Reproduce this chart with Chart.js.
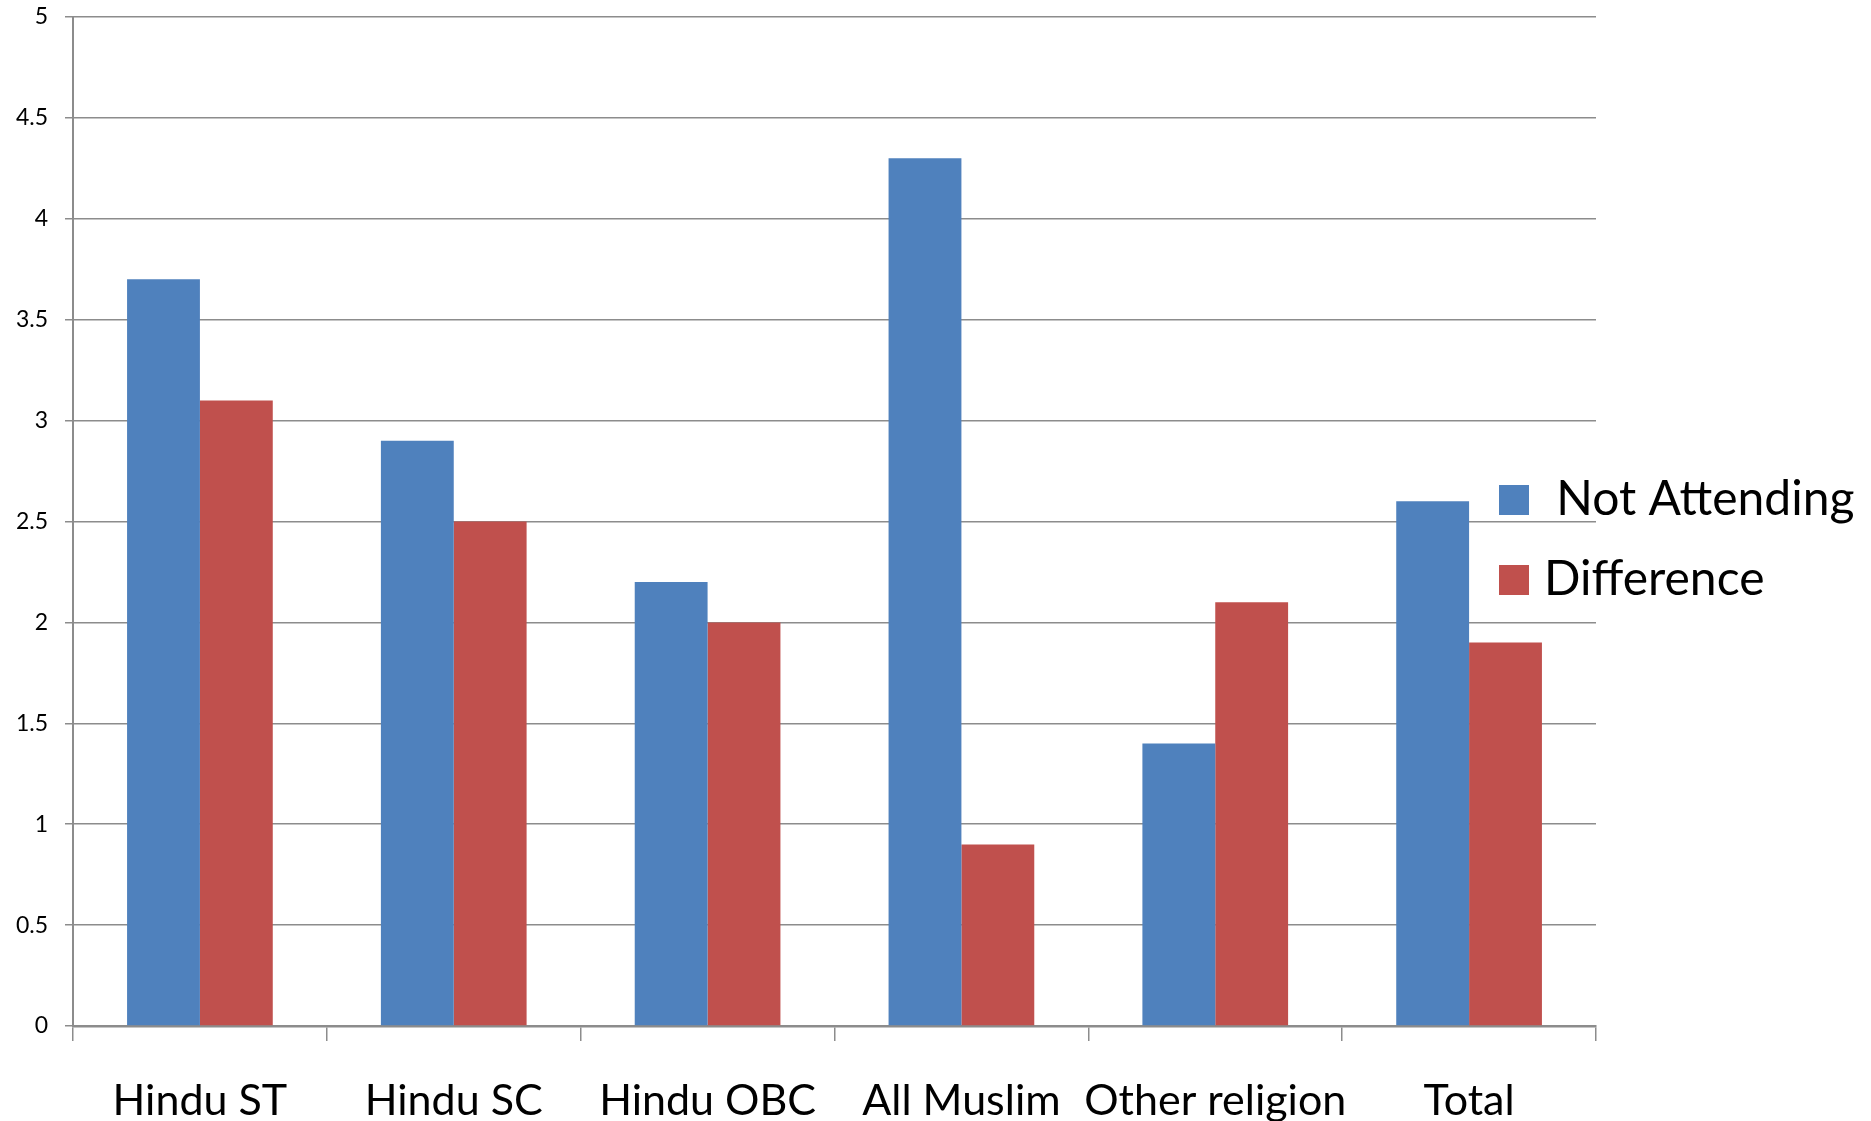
<!DOCTYPE html>
<html>
<head>
<meta charset="utf-8">
<script src="https://cdn.jsdelivr.net/npm/chart.js@4.4.1/dist/chart.umd.min.js"></script>
<style>
  html, body { margin: 0; padding: 0; background: #ffffff; }
  #wrap { width: 1871px; height: 1121px; }
</style>
</head>
<body>
<div id="wrap"><canvas id="chart" width="1871" height="1121"></canvas></div>
<script>
// Categories along the x axis
const categories = ['Hindu ST', 'Hindu SC', 'Hindu OBC', 'All Muslim', 'Other religion', 'Total'];

// Series
const notAttending = [3.7, 2.9, 2.2, 4.3, 1.4, 2.6];
const difference   = [3.1, 2.5, 2.0, 0.9, 2.1, 1.9];
const seriesLabels = [' Not Attending', 'Difference'];

// Y axis ticks
const yTicks = [0, 0.5, 1, 1.5, 2, 2.5, 3, 3.5, 4, 4.5, 5];

const FONT = 'Lato, "Open Sans", "DejaVu Sans", sans-serif';
const GRID = '#8c8c8c';

// Legend drawn to the right, overlapping the plot's right margin
const sideLegend = {
  id: 'sideLegend',
  afterDraw(chart) {
    const ctx = chart.ctx;
    ctx.save();
    ctx.font = '48px ' + FONT;
    ctx.textBaseline = 'alphabetic';
    ctx.textAlign = 'left';
    chart.data.datasets.forEach((ds, i) => {
      const top = 485 + i * 80;
      ctx.fillStyle = ds.backgroundColor;
      ctx.fillRect(1499, top, 30, 30);
      ctx.fillStyle = '#000000';
      ctx.fillText(ds.label, 1544, top + 30);
    });
    ctx.restore();
  }
};

new Chart(document.getElementById('chart'), {
  type: 'bar',
  data: {
    labels: categories,
    datasets: [
      { label: seriesLabels[0], data: notAttending, backgroundColor: '#4F81BD' },
      { label: seriesLabels[1], data: difference, backgroundColor: '#C0504D' }
    ]
  },
  options: {
    responsive: false,
    animation: false,
    devicePixelRatio: 1,
    layout: { padding: { top: 17, right: 275, left: 0, bottom: 0 } },
    datasets: {
      bar: { barPercentage: 1.0, categoryPercentage: 0.574, borderWidth: 0 }
    },
    plugins: {
      legend: { display: false },
      title: { display: false },
      tooltip: { enabled: false }
    },
    scales: {
      x: {
        offset: true,
        grid: {
          display: true,
          drawOnChartArea: false,
          drawTicks: true,
          tickLength: 15,
          color: GRID,
          lineWidth: 1.5,
          offset: true
        },
        border: { display: true, color: GRID, width: 2.5 },
        ticks: {
          color: '#000000',
          font: { family: FONT, size: 43 },
          padding: 34,
          maxRotation: 0,
          autoSkip: false
        },
        afterFit(scale) {
          scale.height = 1121 - 1026;
          scale.paddingLeft = 0;
          scale.paddingRight = 0;
        }
      },
      y: {
        min: 0,
        max: 5,
        afterBuildTicks(scale) { scale.ticks = yTicks.map(v => ({ value: v })); },
        grid: {
          color: GRID,
          lineWidth: 1.5,
          tickLength: 8,
          drawTicks: true
        },
        border: { display: true, color: GRID, width: 2 },
        ticks: {
          color: '#000000',
          font: { family: FONT, size: 23 },
          padding: 17,
          callback: v => String(v)
        },
        afterFit(scale) {
          scale.width = 73;
          scale.paddingTop = 0;
          scale.paddingBottom = 0;
        }
      }
    }
  },
  plugins: [sideLegend]
});
</script>
</body>
</html>
